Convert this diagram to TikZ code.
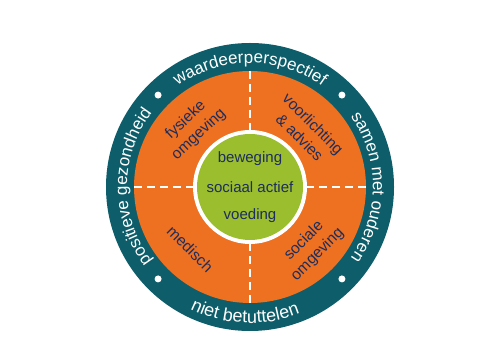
\documentclass[tikz,border=0pt]{standalone}
\usepackage{fontspec}
\setmainfont{Liberation Sans}
\usetikzlibrary{decorations.text}
\definecolor{ringteal}{HTML}{0D5E6A}
\definecolor{quadorange}{HTML}{EE7122}
\definecolor{coregreen}{HTML}{9BBE2E}
\definecolor{navytext}{HTML}{1D2D5C}
\tikzset{
  quadtext/.style={text=navytext, font=\fontsize{15.5}{19}\selectfont, align=center, inner sep=0pt},
  coretext/.style={text=navytext, font=\fontsize{15}{17}\selectfont, inner sep=0pt},
  divider/.style={white, line width=2pt, dash pattern=on 8pt off 5pt},
  ringdot/.style={white},
  ringlabel/.style={decorate, decoration={text along path, text align=center, text color=white}}
}
\begin{document}
\begin{tikzpicture}[x=1pt,y=1pt]
\useasboundingbox (0,0) rectangle (500,350);
\coordinate (c) at (250,163);
% rings
\fill[ringteal] (c) circle (144);
\fill[quadorange] (c) circle (116);
% dividers
\coordinate (otop) at ([shift={(c)}]90:116);
\coordinate (itop) at ([shift={(c)}]90:57);
\coordinate (obot) at ([shift={(c)}]270:116);
\coordinate (ibot) at ([shift={(c)}]270:57);
\coordinate (olft) at ([shift={(c)}]180:116);
\coordinate (ilft) at ([shift={(c)}]180:57);
\coordinate (orgt) at ([shift={(c)}]0:116);
\coordinate (irgt) at ([shift={(c)}]0:57);
\draw[divider] (otop) -- (itop);
\draw[divider] (obot) -- (ibot);
\draw[divider] (olft) -- (ilft);
\draw[divider] (orgt) -- (irgt);
% core
\fill[white] (c) circle (57);
\fill[coregreen] (c) circle (53);
\node[coretext] (beweging) at ([shift={(c)}]0,28) {beweging};
\node[coretext] (sociaal) at (c) {sociaal actief};
\node[coretext] (voeding) at ([shift={(c)}]0,-29) {voeding};
% quadrant labels
\node[quadtext, rotate=43] (fysiek) at ([shift={(c)}]134:83) {fysieke\\omgeving};
\node[quadtext, rotate=-45] (voorl) at ([shift={(c)}]45:80) {voorlichting\\\& advies};
\node[quadtext, rotate=-45] (medisch) at ([shift={(c)}]226:86) {medisch};
\node[quadtext, rotate=45] (sociale) at ([shift={(c)}]-45:86) {sociale\\omgeving};
% dots
\fill[ringdot] ([shift={(c)}]45:130) circle (3.5);
\fill[ringdot] ([shift={(c)}]135:130) circle (3.5);
\fill[ringdot] ([shift={(c)}]225:130) circle (3.5);
\fill[ringdot] ([shift={(c)}]315:130) circle (3.5);
% ring labels
\path[ringlabel, decoration={text={|\fontsize{17}{17}\selectfont|waardeerperspectief}}]
  ([shift={(c)}]150:124) arc[start angle=150, end angle=30, radius=124];
\path[ringlabel, decoration={text={|\fontsize{17}{17}\selectfont|samen met ouderen}}]
  ([shift={(c)}]60:123) arc[start angle=60, end angle=-60, radius=123];
\path[ringlabel, decoration={text={|\fontsize{17}{17}\selectfont|positieve gezondheid}}]
  ([shift={(c)}]240:123) arc[start angle=240, end angle=120, radius=123];
\path[ringlabel, decoration={text={|\fontsize{18}{18}\selectfont|niet betuttelen}}]
  ([shift={(c)}]207.7:136) arc[start angle=207.7, end angle=327.7, radius=136];
\end{tikzpicture}
\end{document}
